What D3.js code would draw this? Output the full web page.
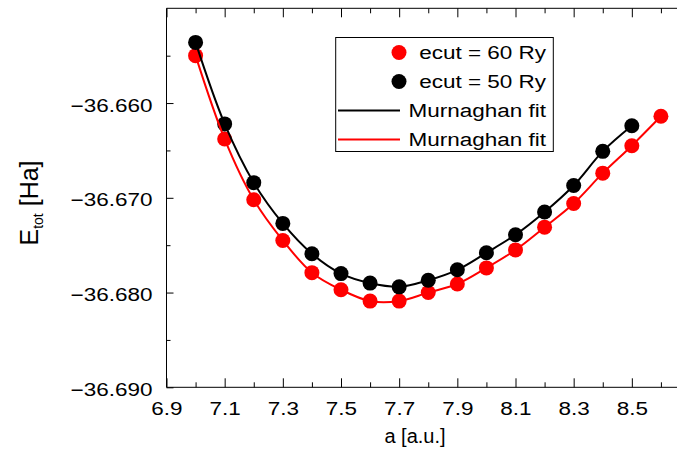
<!DOCTYPE html>
<html>
<head>
<meta charset="utf-8">
<script src="https://cdn.jsdelivr.net/npm/d3@7"></script>
<style>
body { margin: 0; background: #fff; }
text { font-family: "Liberation Sans", Arial, sans-serif; fill: #000; }
</style>
</head>
<body>
<svg id="chart" width="677" height="451"></svg>
<script>
// lattice parameter a [a.u.] and total energy [Ha]
var a60 = [7.0, 7.1, 7.2, 7.3, 7.4, 7.5, 7.6, 7.7, 7.8, 7.9, 8.0, 8.1, 8.2, 8.3, 8.4, 8.5, 8.6];
var e60 = [-36.6550, -36.6638, -36.6702, -36.6745, -36.6779, -36.6797, -36.6809, -36.6809,
           -36.6800, -36.6791, -36.6774, -36.6755, -36.6731, -36.6706, -36.6674, -36.6645, -36.6614];
var a50 = [7.0, 7.1, 7.2, 7.3, 7.4, 7.5, 7.6, 7.7, 7.8, 7.9, 8.0, 8.1, 8.2, 8.3, 8.4, 8.5];
var e50 = [-36.6536, -36.6622, -36.6684, -36.6727, -36.6759, -36.6780, -36.6790, -36.6794,
           -36.6787, -36.6776, -36.6758, -36.6739, -36.6715, -36.6687, -36.6651, -36.6624];

var xMajor = [6.9, 7.1, 7.3, 7.5, 7.7, 7.9, 8.1, 8.3, 8.5];
var xMinor = [7.0, 7.2, 7.4, 7.6, 7.8, 8.0, 8.2, 8.4, 8.6];
var yMajor = [-36.690, -36.680, -36.670, -36.660];
var yMinor = [-36.685, -36.675, -36.665, -36.655];

var legendLabels = ["ecut = 60 Ry", "ecut = 50 Ry", "Murnaghan fit", "Murnaghan fit"];

var RED = "#ff0000";
var BLACK = "#000000";
var SX = 1.25; // text in the picture is drawn wide

var svg = d3.select("#chart");

var plotL = 166.5, plotR = 690, plotT = 8.3, plotB = 387.3;
var x = d3.scaleLinear().domain([6.9, 8.7]).range([plotL, plotR]);
var y = d3.scaleLinear().domain([-36.690, -36.650]).range([plotB, plotT]);

// frame (right side runs off the picture)
svg.append("path")
    .attr("d", "M" + plotR + "," + plotT + "H" + plotL + "V" + plotB + "H" + plotR)
    .attr("fill", "none").attr("stroke", BLACK).attr("stroke-width", 1);

function stripDomain(g) { g.select(".domain").remove(); }

// x axis, bottom
var gxb = svg.append("g").attr("transform", "translate(0," + plotB + ")")
    .call(d3.axisBottom(x).tickValues(xMajor).tickFormat(d3.format(".1f"))
        .tickSizeInner(-9).tickSizeOuter(0).tickPadding(15))
    .call(stripDomain);
gxb.selectAll("text").attr("font-size", 18).attr("transform", "scale(" + SX + ",1)");
svg.append("g").attr("transform", "translate(0," + plotB + ")")
    .call(d3.axisBottom(x).tickValues(xMinor).tickFormat("").tickSizeInner(-5).tickSizeOuter(0))
    .call(stripDomain);

// x axis, top (mirror ticks)
svg.append("g").attr("transform", "translate(0," + plotT + ")")
    .call(d3.axisTop(x).tickValues(xMajor).tickFormat("").tickSizeInner(-9).tickSizeOuter(0))
    .call(stripDomain);
svg.append("g").attr("transform", "translate(0," + plotT + ")")
    .call(d3.axisTop(x).tickValues(xMinor).tickFormat("").tickSizeInner(-5).tickSizeOuter(0))
    .call(stripDomain);

// y axis
var gy = svg.append("g").attr("transform", "translate(" + plotL + ",0)")
    .call(d3.axisLeft(y).tickValues(yMajor).tickFormat(d3.format(".3f"))
        .tickSizeInner(-7).tickSizeOuter(0).tickPadding(14))
    .call(stripDomain);
gy.selectAll("text").attr("font-size", 18).attr("dy", "0.45em")
    .attr("x", -14 / SX).attr("transform", "scale(" + SX + ",1)");
svg.append("g").attr("transform", "translate(" + plotL + ",0)")
    .call(d3.axisLeft(y).tickValues(yMinor).tickFormat("").tickSizeInner(-4).tickSizeOuter(0))
    .call(stripDomain);

svg.selectAll(".tick line").attr("stroke", BLACK);

// axis titles
svg.append("text").attr("x", 415).attr("y", 443).attr("text-anchor", "middle")
    .attr("font-size", 20).text("a [a.u.]");

var yl = svg.append("text").attr("text-anchor", "middle").attr("font-size", 25)
    .attr("transform", "translate(38,203) rotate(-90)");
yl.append("tspan").text("E");
yl.append("tspan").attr("font-size", 14).attr("dy", 5).text("tot");
yl.append("tspan").attr("dy", -5).text(" [Ha]");

// points
function dots(xs, ys, color) {
    svg.append("g").selectAll("circle").data(xs).join("circle")
        .attr("cx", function (d) { return x(d); })
        .attr("cy", function (d, i) { return y(ys[i]); })
        .attr("r", 7.5).attr("fill", color);
}
dots(a60, e60, RED);
dots(a50, e50, BLACK);

// fit curves
function fit(xs, ys, color) {
    var line = d3.line()
        .x(function (d) { return x(d); })
        .y(function (d, i) { return y(ys[i]); })
        .curve(d3.curveCatmullRom.alpha(0.5));
    svg.append("path").attr("d", line(xs))
        .attr("fill", "none").attr("stroke", color).attr("stroke-width", 2);
}
fit(a50, e50, BLACK);
fit(a60, e60, RED);

// legend
var lg = svg.append("g");
lg.append("rect").attr("x", 335.7).attr("y", 37.5).attr("width", 217.6).attr("height", 114)
    .attr("fill", "#fff").attr("stroke", BLACK).attr("stroke-width", 1);
var rowY = [52.5, 81.5, 110.5, 139.5];
lg.append("circle").attr("cx", 399).attr("cy", rowY[0]).attr("r", 7.5).attr("fill", RED);
lg.append("circle").attr("cx", 399).attr("cy", rowY[1]).attr("r", 7.5).attr("fill", BLACK);
lg.append("line").attr("x1", 338).attr("x2", 400).attr("y1", rowY[2]).attr("y2", rowY[2])
    .attr("stroke", BLACK).attr("stroke-width", 2);
lg.append("line").attr("x1", 338).attr("x2", 400).attr("y1", rowY[3]).attr("y2", rowY[3])
    .attr("stroke", RED).attr("stroke-width", 2);
legendLabels.forEach(function (t, i) {
    lg.append("g").attr("transform", "translate(546," + (rowY[i] + 6.5) + ") scale(" + SX + ",1)")
        .append("text").attr("text-anchor", "end").attr("font-size", 18).text(t);
});
</script>
</body>
</html>
